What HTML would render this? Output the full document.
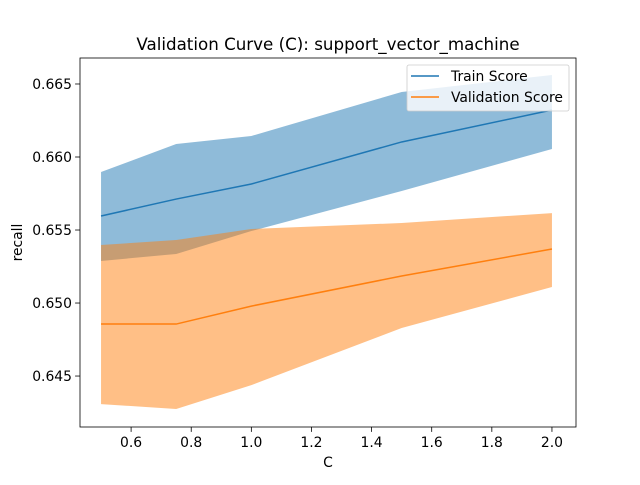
<!DOCTYPE html>
<html><head><meta charset="utf-8"><style>
body{margin:0;background:#fff}
svg text{font-family:"DejaVu Sans","Liberation Sans",sans-serif;fill:#000}
</style></head><body>
<svg id="chart" width="640" height="480" xmlns="http://www.w3.org/2000/svg">
<rect width="640" height="480" fill="#fff"/>
<g id="plot"></g>
</svg>
<script>
const cValues=[0.5,0.75,1.0,1.5,2.0];
const trainMean=[0.65596,0.65712,0.65815,0.66103,0.66322];
const trainUpper=[0.65897,0.66089,0.66144,0.66445,0.66562];
const trainLower=[0.65288,0.65336,0.65493,0.65767,0.66055];
const valMean=[0.64856,0.64856,0.64979,0.65185,0.6537];
const valUpper=[0.65397,0.65432,0.65507,0.65548,0.65616];
const valLower=[0.64308,0.64274,0.64438,0.64829,0.6511];
const xTicks=[0.6,0.8,1.0,1.2,1.4,1.6,1.8,2.0];
const yTicks=[0.645,0.650,0.655,0.660,0.665];

const L=80,R=576,T=58,B=427;
const xMin=0.430,xMax=2.080,yMin=0.64151,yMax=0.66678;
const sx=v=>L+(v-xMin)/(xMax-xMin)*(R-L);
const sy=v=>B-(v-yMin)/(yMax-yMin)*(B-T);
const NS="http://www.w3.org/2000/svg";
const g=document.getElementById('plot');
function mk(tag,attrs,name,text){const e=document.createElementNS(NS,tag);for(const k in attrs)e.setAttribute(k,attrs[k]);


if(text!==undefined)e.textContent=text;g.appendChild(e);return e;}
function band(up,lo,color,name){let d='M'+cValues.map((c,i)=>sx(c)+','+sy(up[i])).join('L');
for(let i=cValues.length-1;i>=0;i--)d+='L'+sx(cValues[i])+','+sy(lo[i]);d+='Z';
mk('path',{d:d,fill:color,'fill-opacity':0.5},name);}
function line(arr,color,name){mk('polyline',{points:cValues.map((c,i)=>sx(c)+','+sy(arr[i])).join(' '),fill:'none',stroke:color,'stroke-width':1.5},name);}
band(trainUpper,trainLower,'#1f77b4','train-score-band');
band(valUpper,valLower,'#ff7f0e','validation-score-band');
line(trainMean,'#1f77b4','train-score-line');
line(valMean,'#ff7f0e','validation-score-line');
mk('rect',{x:L,y:T,width:R-L,height:B-T,fill:'none',stroke:'#000','stroke-width':0.8},'plot-frame');
xTicks.forEach(v=>{const x=sx(v);mk('line',{x1:x,x2:x,y1:B,y2:B+4.9,stroke:'#000','stroke-width':0.8},'x-tick');
mk('text',{x:x,y:B+20,'text-anchor':'middle','font-size':13.9},'x-tick-label',v.toFixed(1));});
yTicks.forEach(v=>{const y=sy(v);mk('line',{x1:L-4.9,x2:L,y1:y,y2:y,stroke:'#000','stroke-width':0.8},'y-tick');
mk('text',{x:L-8,y:y+5,'text-anchor':'end','font-size':13.9},'y-tick-label',v.toFixed(3));});
mk('text',{x:(L+R)/2,y:467,'text-anchor':'middle','font-size':13.9},'x-axis-title','C');
mk('text',{x:22,y:(T+B)/2,'text-anchor':'middle','font-size':13.9,transform:'rotate(-90 22 '+((T+B)/2)+')'},'y-axis-title','recall');
mk('text',{x:(L+R)/2,y:T-8,'text-anchor':'middle','font-size':16.7},'chart-title','Validation Curve (C): support_vector_machine');
mk('rect',{x:407,y:65,width:162,height:46,rx:2,fill:'#fff','fill-opacity':0.8,stroke:'#ccc','stroke-width':0.8},'legend-box');
mk('line',{x1:411,x2:439,y1:76,y2:76,stroke:'#1f77b4','stroke-width':1.5},'legend-train-swatch');
mk('text',{x:451,y:81,'font-size':13.9},'legend-train-label','Train Score');
mk('line',{x1:411,x2:439,y1:97,y2:97,stroke:'#ff7f0e','stroke-width':1.5},'legend-validation-swatch');
mk('text',{x:451,y:102,'font-size':13.9},'legend-validation-label','Validation Score');
</script>
</body></html>
